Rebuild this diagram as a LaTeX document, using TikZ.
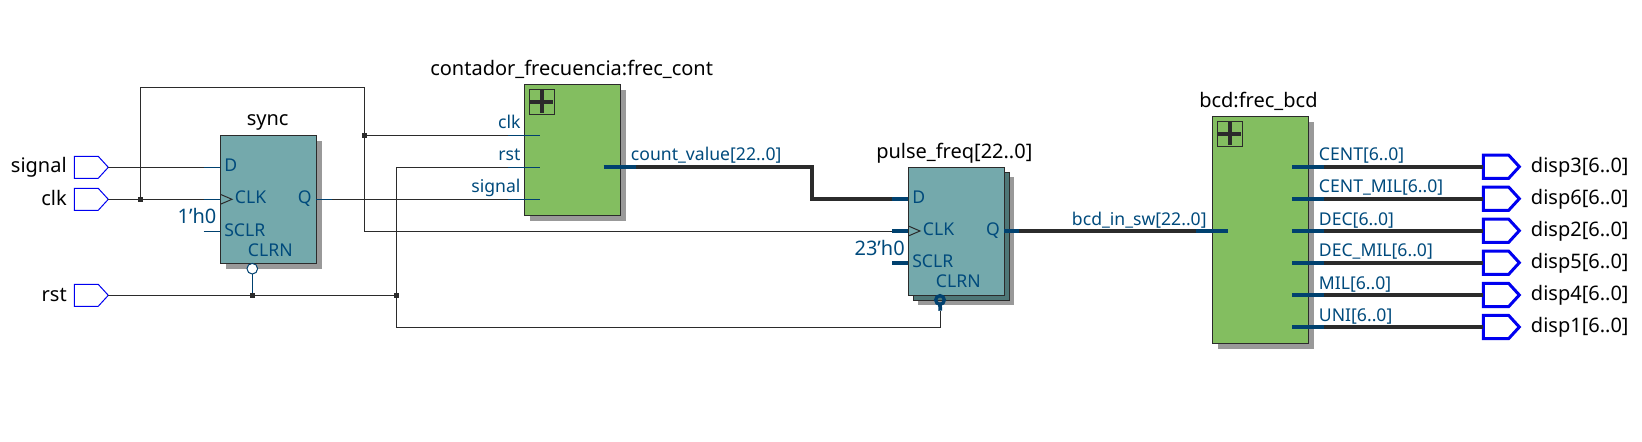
\documentclass[tikz,border=0pt]{standalone}
\usepackage{fontspec}
\setmainfont{Noto Sans}
\usetikzlibrary{shapes.symbols}
\definecolor{wirec}{HTML}{2B2B2B}
\definecolor{stubc}{HTML}{00416F}
\definecolor{labc}{HTML}{004A7C}
\definecolor{tealc}{HTML}{74A9AC}
\definecolor{tealb}{HTML}{4E7777}
\definecolor{greenc}{HTML}{83BE60}
\definecolor{shadc}{HTML}{999999}
\definecolor{portc}{HTML}{0000F0}
\tikzset{
  wire/.style={draw=wirec,line width=0.75pt},
  bus/.style={draw=wirec,line width=2.8pt},
  stub/.style={draw=stubc,line width=0.75pt},
  busstub/.style={draw=stubc,line width=2.8pt},
  title/.style={inner sep=0,anchor=base west,yshift=-0.75pt,font=\fontsize{15}{15}\selectfont,text=black},
  titler/.style={title,anchor=base east},
  titlec/.style={title,anchor=base},
  pinl/.style={inner sep=0,anchor=base west,yshift=-0.75pt,font=\fontsize{13.2}{13.2}\selectfont,text=labc},
  pinr/.style={pinl,anchor=base east},
  boxn/.style={draw=wirec,line width=0.75pt,anchor=north west,inner sep=0,outer sep=0,minimum width=#1*0.75pt},
  shade/.style={fill=shadc,draw=none,anchor=north west,inner sep=0,outer sep=0,minimum width=#1*0.75pt},
  junction/.style={fill=wirec,draw=none,inner sep=0,minimum size=3.6pt},
  inport/.style={signal,signal to=east,signal from=nowhere,signal pointer angle=95,draw=portc,line width=0.75pt,inner sep=0,outer sep=0,minimum width=25.5pt,minimum height=16.5pt},
  outport/.style={inport,line width=2.25pt,minimum width=27pt,minimum height=17.5pt},
  plusbox/.style={draw=wirec,line width=0.75pt,anchor=north west,inner sep=0,outer sep=0,minimum size=19pt},
  bubble/.style={circle,draw=stubc,inner sep=0,outer sep=0,minimum size=#1},
}
\begin{document}
\begin{tikzpicture}[x=0.75pt,y=-0.75pt]
\useasboundingbox (0,0) rectangle (1642,442);
% shadows and bodies
\node[shade=96,minimum height=96pt] (syncS) at (225.8,140.8) {};
\node[boxn=96,fill=tealc,minimum height=96pt] (sync) at (220.3,135.3) {};
\node[shade=96,minimum height=98.25pt] (contS) at (529.8,89.8) {};
\node[boxn=96,fill=greenc,minimum height=98.25pt] (cont) at (524.3,84.3) {};
\node[shade=96,minimum height=96pt] (pulseS) at (918.3,177.3) {};
\node[boxn=96,fill=tealb,minimum height=96pt] (pulseB) at (913.3,172.3) {};
\node[boxn=96,fill=tealc,minimum height=96pt] (pulse) at (908.3,167.3) {};
\node[shade=96,minimum height=170.25pt] (bcdS) at (1217.8,121.8) {};
\node[boxn=96,fill=greenc,minimum height=170.25pt] (bcd) at (1212.3,116.3) {};
% plus icons
\node[plusbox] (plusA) at (529.3,89.3) {};
\draw[draw=wirec,line width=3.4pt] (plusA.center) ++(-11.5,0) -- ++(23,0) (plusA.center) ++(0,-11.5) -- ++(0,23);
\node[plusbox] (plusB) at (1217.3,121.3) {};
\draw[draw=wirec,line width=3.4pt] (plusB.center) ++(-11.5,0) -- ++(23,0) (plusB.center) ++(0,-11.5) -- ++(0,23);
% input ports
\node[inport,anchor=west] (psignal) at (74.3,167.3) {};
\node[inport,anchor=west] (pclk) at (74.3,199.3) {};
\node[inport,anchor=west] (prst) at (74.3,295.3) {};
% junctions and corners
\node[junction] (jclk) at (140.3,199.3) {};
\node[junction] (jtop) at (364.3,135.3) {};
\node[junction] (jrsts) at (252.3,295.3) {};
\node[junction] (jrst) at (396.3,295.3) {};
\coordinate (ctl) at (140.3,87.3);
\coordinate (ctr) at (364.3,87.3);
\coordinate (cclkb) at (364.3,231);
% pins
\coordinate (sD) at (220.3,167.3);
\coordinate (sCLK) at (220.3,199.3);
\coordinate (sQ) at (316.3,199.3);
\coordinate (cclk) at (539.7,135.3);
\coordinate (crst) at (539.7,167.3);
\coordinate (csig) at (539.7,199.3);
\coordinate (cclkS) at (508,135.3);
\coordinate (crstS) at (508,167.3);
\coordinate (csigS) at (508,199.3);
\coordinate (cout) at (603.7,166.7);
\coordinate (coutS) at (636,166.7);
\coordinate (bA) at (812.3,166.7);
\coordinate (bB) at (812.3,198.7);
\coordinate (pDS) at (892,198.7);
\coordinate (pD) at (908.3,198.7);
\coordinate (pCS) at (892,231);
\coordinate (pC) at (908.3,231);
\coordinate (pSS) at (892,262.7);
\coordinate (pSC) at (908.3,262.7);
\coordinate (pQ) at (1004.3,230.7);
\coordinate (pQS) at (1019.3,230.7);
\coordinate (bIS) at (1195.7,230.7);
\coordinate (bI) at (1227.7,230.7);
\coordinate (rU) at (396.3,167.3);
\coordinate (rD) at (396.3,327.3);
\coordinate (rE) at (940.3,327.3);
\coordinate (pCl) at (940.3,310.7);
\coordinate (sSCA) at (203.7,231.3);
\coordinate (sSCB) at (220.3,231.3);
\coordinate (sDS) at (204,167.3);
\coordinate (sCS) at (204,199.3);
\coordinate (sQS) at (332,199.3);
% thin wires
\draw[wire] (psignal.east) -- (sDS);
\draw[wire] (pclk.east) -- (sCS);
\draw[wire] (prst.east) -- (jrst.center);
\draw[wire] (jclk.center) -- (ctl) -- (ctr) -- (cclkb) -- (pCS);
\draw[wire] (jtop.center) -- (cclkS);
\draw[wire] (sQS) -- (csigS);
\draw[wire] (rU) -- (rD) -- (rE) -- (pCl);
\draw[wire] (rU) -- (crstS);
% thin stubs
\draw[stub] (sDS) -- (sD);
\draw[stub] (sCS) -- (sCLK);
\draw[stub] (sSCA) -- (sSCB);
\draw[stub] (sQ) -- (sQS);
\draw[stub] (cclkS) -- (cclk);
\draw[stub] (crstS) -- (crst);
\draw[stub] (csigS) -- (csig);
% buses
\draw[bus,line join=miter] (coutS) -- (bA) -- (bB) -- (pDS);
\draw[bus] (pQS) -- (bIS);
\draw[busstub] (cout) -- (coutS);
\draw[busstub] (pDS) -- (pD);
\draw[busstub] (pCS) -- (pC);
\draw[busstub] (pSS) -- (pSC);
\draw[busstub] (pQ) -- (pQS);
\draw[busstub] (bIS) -- (bI);
% clock triangles
\coordinate (tA) at (220.3,194.3); \coordinate (tB) at (232,199.3); \coordinate (tC) at (220.3,204.3);
\draw[wirec,line width=0.75pt] (tA) -- (tB) -- (tC);
\coordinate (tD) at (908.3,226); \coordinate (tE) at (920,231); \coordinate (tF) at (908.3,236);
\draw[wirec,line width=0.75pt] (tD) -- (tE) -- (tF);
% bubbles
\node[bubble=8pt,line width=0.75pt,fill=white] (bubS) at (252.3,268.7) {};
\draw[stub] (bubS.south) -- (jrsts.center);
\node[junction] at (jrsts) {};
\node[bubble=6.5pt,line width=2.5pt] (bubP) at (940,300) {};
\draw[busstub] (bubP.south) -- (pCl);
% output ports
\foreach \n/\y in {3/166.7,6/198.7,2/230.7,5/262.7,4/295,1/327}{
  \node[outport,anchor=west] (out\n) at (1483.3,\y) {};
  \coordinate (osS\n) at (1292,\y);
  \coordinate (osE\n) at (1323.7,\y);
  \draw[bus] (osE\n) -- (out\n.west);
  \draw[busstub] (osS\n) -- (osE\n);
}
% titles and port labels
\node[title] (tcont) at (430,74.3) {contador\_frecuencia:frec\_cont};
\node[titlec] (tsync) at (267.7,125) {sync};
\node[title] (tpulse) at (876,157.7) {pulse\_freq[22..0]};
\node[title] (tbcd) at (1199,106.3) {bcd:frec\_bcd};
\node[titler] (lsignal) at (67,172) {signal};
\node[titler] (lclk) at (67,204) {clk};
\node[titler] (lrst) at (67,300) {rst};
\foreach \n/\y in {3/171.7,6/203.7,2/235.7,5/267.7,4/299.7,1/331.7}{
  \node[title] (ldisp\n) at (1530.7,\y) {disp\n[6..0]};
}
% pin labels
\node[pinl] (a1) at (224,171) {D};
\node[pinl] (a2) at (234.7,203) {CLK};
\node[pinr] (a3) at (312,203) {Q};
\node[pinl] (a4) at (224,235) {SCLR};
\node[pinl] (a5) at (247.7,255) {CLRN};
\node[titler,text=labc] (a6) at (216.7,222.7) {1'h0};
\node[pinr] (b1) at (520.7,128) {clk};
\node[pinr] (b2) at (520.7,160) {rst};
\node[pinr] (b3) at (520.7,192) {signal};
\node[pinl] (b4) at (630.7,160) {count\_value[22..0]};
\node[pinl] (c1) at (912,202.7) {D};
\node[pinl] (c2) at (922.7,234.7) {CLK};
\node[pinr] (c3) at (1000,234.7) {Q};
\node[pinl] (c4) at (912,266.7) {SCLR};
\node[pinl] (c5) at (935.7,286.7) {CLRN};
\node[titler,text=labc] (c6) at (905,254.7) {23'h0};
\node[pinl] (c7) at (1071.7,224.3) {bcd\_in\_sw[22..0]};
\node[pinl] (d1) at (1318.7,160) {CENT[6..0]};
\node[pinl] (d2) at (1318.7,192) {CENT\_MIL[6..0]};
\node[pinl] (d3) at (1318.7,224) {DEC[6..0]};
\node[pinl] (d4) at (1318.7,256) {DEC\_MIL[6..0]};
\node[pinl] (d5) at (1318.7,288) {MIL[6..0]};
\node[pinl] (d6) at (1318.7,320) {UNI[6..0]};
\end{tikzpicture}
\end{document}
